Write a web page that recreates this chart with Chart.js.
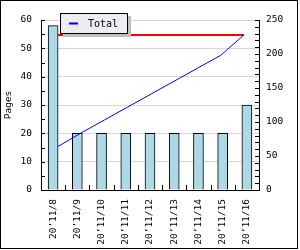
<!DOCTYPE html>
<html>
<head>
<meta charset="utf-8">
<script src="https://cdn.jsdelivr.net/npm/chart.js@4/dist/chart.umd.min.js"></script>
<style>
  html, body { margin: 0; padding: 0; background: #fff; }
</style>
</head>
<body>
<canvas id="chart" width="300" height="250"></canvas>
<script>
// data
const categories = ["20’11/8", "20’11/9", "20’11/10", "20’11/11", "20’11/12", "20’11/13", "20’11/14", "20’11/15", "20’11/16"];
const pages = [58, 20, 20, 20, 20, 20, 20, 20, 30];
const totalPages = [64, 84, 103, 122, 141, 160, 179, 198, 228];
const goalPages = [228, 228, 228, 228, 228, 228, 228, 228, 228];

const FONT = "'DejaVu Sans Mono', monospace";
const FONT_SIZE = 9.5;

// the lines run from the right edge of the first bar to the left edge of the last one
const asPoints = values => values.map((v, i) => ({ x: i, y: v }));

// minor tick marks (drawn inward), legend box and outer frame
const decorPlugin = {
  id: 'decor',
  afterDraw(chart) {
    const {ctx, chartArea: a, scales} = chart;
    ctx.save();
    ctx.strokeStyle = '#000';
    ctx.lineWidth = 1;
    ctx.beginPath();
    for (let v = 0; v <= 60; v += 5) {
      const y = Math.round(scales.y.getPixelForValue(v)) + 0.5;
      ctx.moveTo(a.left, y);
      ctx.lineTo(a.left + 4, y);
    }
    for (let v = 0; v <= 250; v += 10) {
      const y = Math.round(scales.y1.getPixelForValue(v)) + 0.5;
      ctx.moveTo(a.right - 4, y);
      ctx.lineTo(a.right, y);
    }
    const step = (a.right - a.left) / categories.length;
    for (let i = 1; i < categories.length; i++) {
      const x = Math.round(a.left + i * step) + 0.5;
      ctx.moveTo(x, a.bottom - 5);
      ctx.lineTo(x, a.bottom);
    }
    ctx.stroke();

    // legend
    const lx = a.left + 19, ly = a.top - 7;
    ctx.fillStyle = '#bfbfbf';
    ctx.fillRect(lx + 3, ly + 3, 68, 21);
    ctx.fillStyle = '#eeecf0';
    ctx.fillRect(lx, ly, 68, 21);
    ctx.strokeRect(lx + 0.5, ly + 0.5, 67, 20);
    ctx.strokeStyle = '#0000ff';
    ctx.lineWidth = 2;
    ctx.beginPath();
    ctx.moveTo(lx + 9, ly + 10.5);
    ctx.lineTo(lx + 18, ly + 10.5);
    ctx.stroke();
    ctx.fillStyle = '#000';
    ctx.font = '10px ' + FONT;
    ctx.textBaseline = 'middle';
    ctx.fillText('Total', lx + 28, ly + 11);

    // outer frame
    ctx.strokeStyle = '#000';
    ctx.lineWidth = 1;
    ctx.strokeRect(0.5, 0.5, 297, 248);
    ctx.restore();
  }
};

Chart.defaults.font.family = FONT;
Chart.defaults.font.size = FONT_SIZE;
Chart.defaults.color = '#000';

new Chart(document.getElementById('chart'), {
  data: {
    labels: categories,
    datasets: [
      {
        type: 'line',
        label: 'Total',
        data: asPoints(totalPages),
        xAxisID: 'x2',
        yAxisID: 'y1',
        borderColor: '#0000ff',
        borderWidth: 1,
        pointRadius: 0,
        tension: 0,
        order: 1
      },
      {
        type: 'line',
        label: 'Goal',
        data: asPoints(goalPages),
        xAxisID: 'x2',
        yAxisID: 'y1',
        borderColor: '#ff0000',
        borderWidth: 2,
        pointRadius: 0,
        order: 1
      },
      {
        type: 'bar',
        label: 'Pages',
        data: pages,
        xAxisID: 'x',
        yAxisID: 'y',
        backgroundColor: '#add8e6',
        borderColor: '#000',
        borderWidth: 1,
        barThickness: 10,
        grouped: false,
        order: 2
      }
    ]
  },
  options: {
    responsive: false,
    animation: false,
    layout: { padding: { top: 20 } },
    plugins: {
      legend: { display: false },
      tooltip: { enabled: false }
    },
    scales: {
      x: {
        type: 'category',
        offset: true,
        grid: { display: false, drawTicks: false },
        border: { color: '#000' },
        ticks: { autoSkip: false, maxRotation: 90, minRotation: 90, padding: 9 },
        afterFit(scale) {
          scale.height = 60;
          scale.paddingLeft = 0;
          scale.paddingRight = 0;
        }
      },
      x2: {
        type: 'linear',
        display: false,
        min: -0.73,
        max: 8.65
      },
      y: {
        position: 'left',
        min: 0,
        max: 60,
        ticks: { stepSize: 10, padding: 9 },
        grid: { color: '#d6d6d6', drawTicks: false },
        border: { color: '#000' },
        title: { display: true, text: 'Pages', padding: { top: 3, bottom: 0 } },
        afterFit(scale) { scale.width = 41; }
      },
      y1: {
        position: 'right',
        min: 0,
        max: 250,
        ticks: { stepSize: 50, padding: 7 },
        grid: { display: false, drawTicks: false },
        border: { color: '#000' },
        afterFit(scale) { scale.width = 41; }
      }
    }
  },
  plugins: [decorPlugin]
});
</script>
</body>
</html>
